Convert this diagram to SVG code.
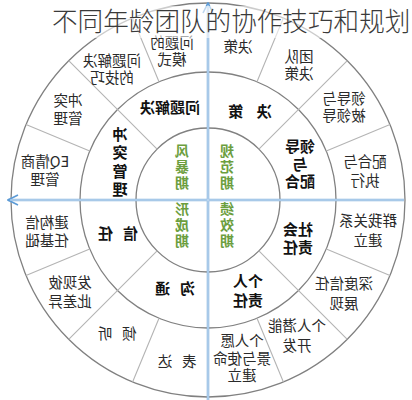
<svg xmlns="http://www.w3.org/2000/svg" width="412" height="400" viewBox="0 0 412 400">
<defs>
<style>
text{font-family:"Noto Sans CJK SC","Noto Sans",sans-serif;text-anchor:middle}
.o{font-size:14.5px;fill:#2a2a2a}
.m{font-size:15px;font-weight:bold;fill:#111}
.c{font-size:14px;font-weight:bold;fill:#6c9e3e}
.ring{fill:none;stroke:#808080;stroke-width:1.3}
.div{stroke:#b4b4b4;stroke-width:1.1;fill:none}
.axis{stroke:#8ab6df;stroke-width:2.6;fill:none}
.axin{stroke:#d4e6f6;stroke-width:0.8;fill:none}
.title{font-size:25.6px;fill:#3a3a3a;text-anchor:start;font-weight:300}
</style>
<marker id="arr" viewBox="0 0 12 12" refX="11" refY="6" markerWidth="12" markerHeight="12" markerUnits="userSpaceOnUse" orient="auto-start-reverse">
<path d="M1,1 L11,6 L1,11" fill="none" stroke="#5d9bd6" stroke-width="1.6"/>
</marker>
</defs>
<rect width="412" height="400" fill="#fff"/>
<g id="rings">
<circle class="ring" cx="208" cy="200" r="197"/>
<circle class="ring" cx="208" cy="200" r="128"/>
<circle class="ring" cx="208" cy="200" r="72"/>
</g>
<g id="connectors">
<path class="div" d="M258.9,149.1L347.3,60.7M157.1,149.1L68.7,60.7M258.9,250.9L347.3,339.3M157.1,250.9L68.7,339.3"/>
<path class="div" d="M257,81.7L283.4,18M159,81.7L132.6,18M257,318.3L283.4,382M159,318.3L132.6,382M326.3,151L390,124.6M89.7,151L26,124.6M326.3,249L390,275.4M89.7,249L26,275.4"/>
<path class="axis" d="M8,200H404" marker-start="url(#arr)"/>
<path class="axis" d="M208,400V3" marker-end="url(#arr)"/>
<path class="axin" d="M10,200H404M208,400V5"/>
</g>
<g id="center">
<g id="n-fengbao" transform="matrix(-1 0 0 1 364 0)"><text class="c"><tspan x="182" y="156">风</tspan><tspan x="182" y="172">暴</tspan><tspan x="182" y="188">期</tspan></text></g>
<g id="n-guifan" transform="matrix(-1 0 0 1 454 0)"><text class="c"><tspan x="227" y="156">规</tspan><tspan x="227" y="172">范</tspan><tspan x="227" y="188">期</tspan></text></g>
<g id="n-xingcheng" transform="matrix(-1 0 0 1 364 0)"><text class="c"><tspan x="182" y="214">形</tspan><tspan x="182" y="230">成</tspan><tspan x="182" y="246">期</tspan></text></g>
<g id="n-jixiao" transform="matrix(-1 0 0 1 454 0)"><text class="c"><tspan x="227" y="214">绩</tspan><tspan x="227" y="230">效</tspan><tspan x="227" y="246">期</tspan></text></g>
</g>
<g id="middle">
<g id="n-wentijiejue" transform="matrix(-1 0 0 1 340 0)"><text class="m" x="170" y="113">问题解决</text></g>
<g id="n-chongtu" transform="matrix(-1 0 0 1 240 0)"><text class="m"><tspan x="120" y="140">冲</tspan><tspan x="120" y="158">突</tspan><tspan x="120" y="177">管</tspan><tspan x="120" y="195">理</tspan></text></g>
<g id="n-juece" transform="matrix(-1 0 0 1 500 0)"><text class="m" x="250" y="117" xml:space="preserve">决    策</text></g>
<g id="n-lingdao" transform="matrix(-1 0 0 1 600 0)"><text class="m"><tspan x="300" y="152">领导</tspan><tspan x="300" y="170">与</tspan><tspan x="300" y="187">配合</tspan></text></g>
<g id="n-shehui" transform="matrix(-1 0 0 1 596 0)"><text class="m"><tspan x="298" y="235">社会</tspan><tspan x="298" y="253">责任</tspan></text></g>
<g id="n-geren" transform="matrix(-1 0 0 1 496 0)"><text class="m"><tspan x="248" y="287">个人</tspan><tspan x="248" y="306">责任</tspan></text></g>
<g id="n-xinren" transform="matrix(-1 0 0 1 236 0)"><text class="m" x="118" y="239" xml:space="preserve">信   任</text></g>
<g id="n-goutong" transform="matrix(-1 0 0 1 350 0)"><text class="m" x="175" y="294" xml:space="preserve">沟   通</text></g>
</g>
<g id="outer">
<g id="o1" transform="matrix(-1 0 0 1 344 0)"><text class="o"><tspan x="172" y="48">问题的</tspan><tspan x="172" y="65">模式</tspan></text></g>
<g id="o2" transform="matrix(-1 0 0 1 224 0)"><text class="o"><tspan x="112" y="66">问题解决</tspan><tspan x="112" y="83">的技巧</tspan></text></g>
<g id="o3" transform="matrix(-1 0 0 1 136 0)"><text class="o"><tspan x="68" y="106">冲突</tspan><tspan x="68" y="124">管理</tspan></text></g>
<g id="o4" transform="matrix(-1 0 0 1 90 0)"><text class="o"><tspan x="45" y="167">EQ情商</tspan><tspan x="45" y="185">管理</tspan></text></g>
<g id="o5" transform="matrix(-1 0 0 1 94 0)"><text class="o"><tspan x="47" y="228">建构信</tspan><tspan x="47" y="246">任基础</tspan></text></g>
<g id="o6" transform="matrix(-1 0 0 1 140 0)"><text class="o"><tspan x="70" y="288">发现彼</tspan><tspan x="70" y="307">此差异</tspan></text></g>
<g id="o7" transform="matrix(-1 0 0 1 234 0)"><text class="o" x="117" y="339" xml:space="preserve">倾   听</text></g>
<g id="o8" transform="matrix(-1 0 0 1 354 0)"><text class="o" x="177" y="367" xml:space="preserve">表   达</text></g>
<g id="o9" transform="matrix(-1 0 0 1 484 0)"><text class="o"><tspan x="242" y="346">个人愿</tspan><tspan x="242" y="364">景与使命</tspan><tspan x="242" y="381">建立</tspan></text></g>
<g id="o10" transform="matrix(-1 0 0 1 594 0)"><text class="o"><tspan x="297" y="331">个人潜能</tspan><tspan x="297" y="351">开发</tspan></text></g>
<g id="o11" transform="matrix(-1 0 0 1 688 0)"><text class="o"><tspan x="344" y="289">深度信任</tspan><tspan x="344" y="309">展现</tspan></text></g>
<g id="o12" transform="matrix(-1 0 0 1 736 0)"><text class="o"><tspan x="368" y="226">群我关系</tspan><tspan x="368" y="246">建立</tspan></text></g>
<g id="o13" transform="matrix(-1 0 0 1 730 0)"><text class="o"><tspan x="365" y="167">配合与</tspan><tspan x="365" y="186">执行</tspan></text></g>
<g id="o14" transform="matrix(-1 0 0 1 688 0)"><text class="o"><tspan x="344" y="104">领导与</tspan><tspan x="344" y="121">被领导</tspan></text></g>
<g id="o15" transform="matrix(-1 0 0 1 598 0)"><text class="o"><tspan x="299" y="62">团队</tspan><tspan x="299" y="79">决策</tspan></text></g>
<g id="o16" transform="matrix(-1 0 0 1 476 0)"><text class="o" x="238" y="52">决策</text></g>
</g>
<g id="title">
<rect x="44" y="6" width="368" height="32" fill="#fff" opacity="0.6"/>
<text class="title" x="52" y="31">不同年龄团队的协作技巧和规划</text>
</g>
</svg>
